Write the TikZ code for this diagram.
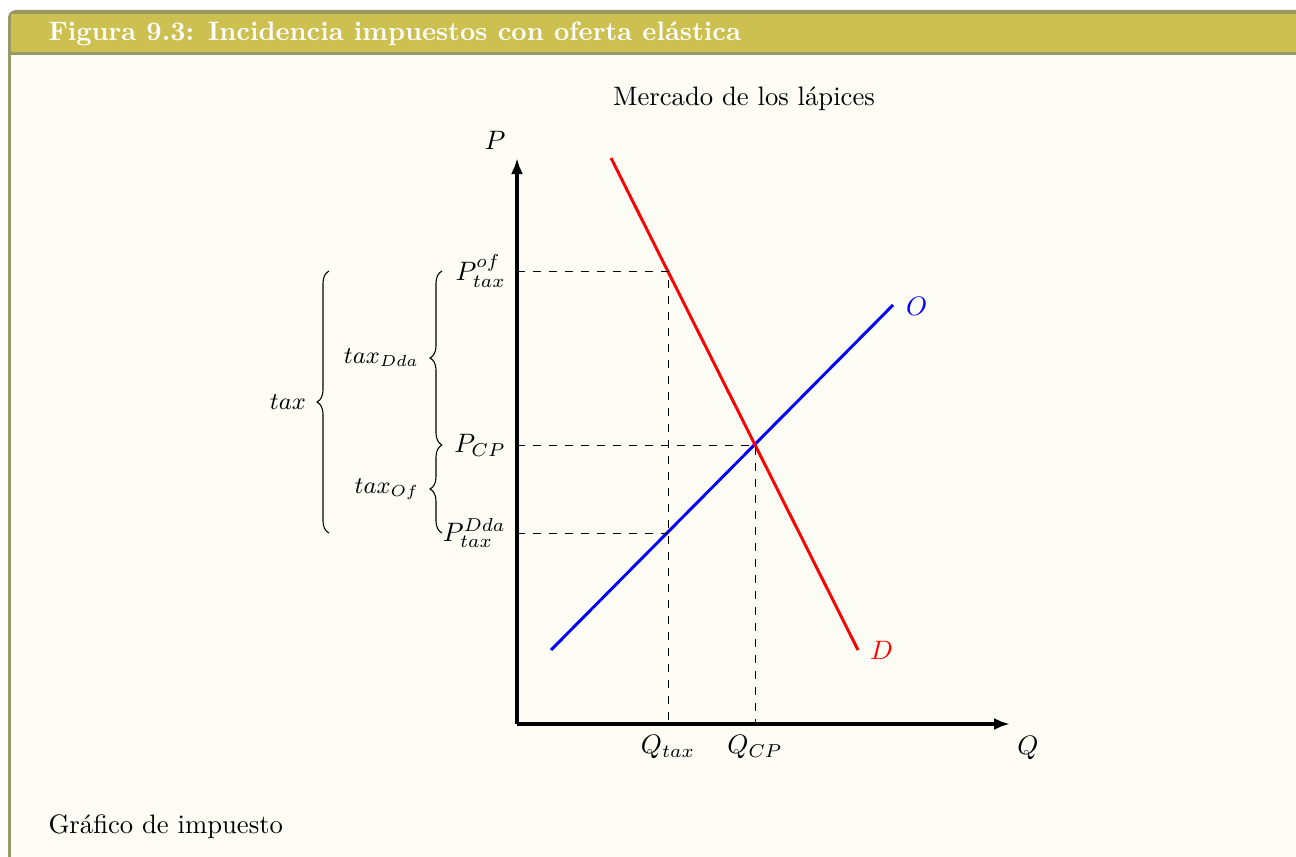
\documentclass[tikz,border=0pt]{standalone}
\usetikzlibrary{decorations.pathreplacing,arrows.meta}
\definecolor{frameC}{HTML}{999966}
\definecolor{titleC}{HTML}{CCC050}
\definecolor{bodyC}{HTML}{FDFDF6}
\begin{document}
\begin{tikzpicture}[x=0.375pt,y=-0.375pt,
  axis/.style={line width=1.4pt,-{Latex[length=6pt,width=4.5pt]}},
  guide/.style={dashed,line width=0.35pt},
  curve/.style={line width=1.1pt},
  bracestyle/.style={decorate,decoration={brace,amplitude=4.5pt},line width=0.4pt},
  bracelbl/.style={midway,left=7.5pt,inner sep=1pt,font=\small},
  lbl/.style={inner sep=1pt}]
\useasboundingbox (0,0) rectangle (1296,856);
\begin{scope}
\clip (0,0) rectangle (1296,856);
\fill[frameC, rounded corners=3pt] (8,10) rectangle (1330,900);
\fill[titleC] (11,14) rectangle (1330,52);
\fill[bodyC] (11,55) rectangle (1330,900);
\end{scope}
\node[anchor=base west,text=white,font=\bfseries,inner sep=0pt] (title) at (48,41) {Figura 9.3: Incidencia impuestos con oferta elástica};
\node[anchor=base west,inner sep=0pt] (caption) at (48,833) {Gráfico de impuesto};
\node[anchor=base,inner sep=0pt] (mtitle) at (744,106) {Mercado de los lápices};
% axes
\coordinate (o) at (517,724);
\coordinate (ytip) at (517,158);
\coordinate (xtip) at (1010,724);
\draw[axis] (o) -- (ytip);
\draw[axis] (o) -- (xtip);
\node (P) at (495,140) {$P$};
\node (Q) at (1028,748) {$Q$};
% curves
\coordinate (s1) at (551,650);
\coordinate (s2) at (893,305);
\coordinate (d1) at (611,158);
\coordinate (d2) at (858,650);
\draw[curve,blue] (s1) -- (s2);
\draw[curve,red] (d1) -- (d2);
\node[blue,anchor=west,lbl] (O) at (903,306) {$O$};
\node[red,anchor=west,lbl] (D) at (867,650) {$D$};
% points
\coordinate (E) at (755,445);
\coordinate (A) at (668,271);
\coordinate (B) at (668,533);
\coordinate (yA) at (517,271);
\coordinate (yE) at (517,445);
\coordinate (yB) at (517,533);
\coordinate (xA) at (668,724);
\coordinate (xE) at (755,724);
\draw[guide] (yA) -- (A) -- (xA);
\draw[guide] (yE) -- (E) -- (xE);
\draw[guide] (yB) -- (B);
% labels
\node[anchor=east,lbl] (PA) at (509,271) {$P_{tax}^{of}$};
\node[anchor=east,lbl] (PE) at (509,445) {$P_{CP}$};
\node[anchor=east,lbl] (PB) at (509,533) {$P_{tax}^{Dda}$};
\node[anchor=north,lbl] (QA) at (668,732) {$Q_{tax}$};
\node[anchor=north,lbl] (QE) at (755,732) {$Q_{CP}$};
% braces
\coordinate (b1) at (442,271);
\coordinate (b2) at (442,445);
\coordinate (b3) at (442,533);
\coordinate (c1) at (329,271);
\coordinate (c2) at (329,533);
\draw[bracestyle] (b2) -- (b1) node[bracelbl] (tD) {$tax_{Dda}$};
\draw[bracestyle] (b3) -- (b2) node[bracelbl] (tO) {$tax_{Of}$};
\draw[bracestyle] (c2) -- (c1) node[bracelbl] (tT) {$tax$};
\end{tikzpicture}
\end{document}
